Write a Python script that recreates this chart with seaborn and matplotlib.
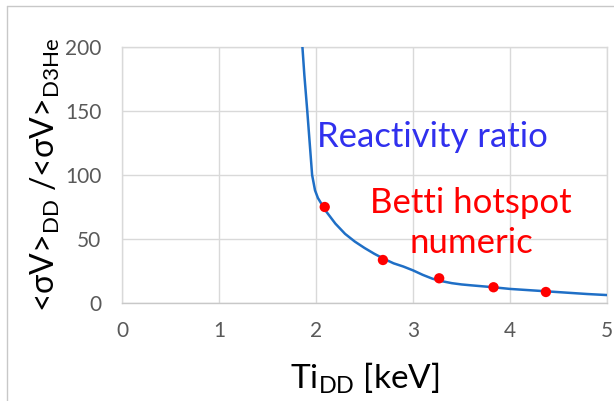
import matplotlib
matplotlib.use("Agg")
import matplotlib.pyplot as plt
import seaborn as sns
import pandas as pd
from matplotlib.lines import Line2D

# ---- data ----
curve_x = [1.86, 1.88, 1.91, 1.935, 1.96, 1.99, 2.02, 2.06, 2.10, 2.15, 2.20, 2.30, 2.40,
           2.50, 2.60, 2.70, 2.80, 2.90, 3.00, 3.10, 3.20, 3.30, 3.40, 3.50, 3.60, 3.80,
           4.00, 4.20, 4.40, 4.60, 4.80, 5.00]
curve_y = [200, 178, 150, 125, 100, 88, 82, 77, 72, 67, 62, 54, 48,
           43, 38.5, 34.5, 31, 28.5, 25.5, 22, 19, 17, 15.5, 14.5, 13.8, 12.5,
           11, 10, 9, 8, 7, 6.2]
pts_x = [2.09, 2.69, 3.27, 3.83, 4.37]
pts_y = [75, 33.6, 19.3, 12.3, 8.6]
xticks = [0, 1, 2, 3, 4, 5]
yticks = [0, 50, 100, 150, 200]

curve = pd.DataFrame({"x": curve_x, "y": curve_y})
pts = pd.DataFrame({"x": pts_x, "y": pts_y})

sns.set_theme(style="white")
plt.rcParams["font.family"] = ["Lato", "DejaVu Sans"]
plt.rcParams["mathtext.fontset"] = "custom"
plt.rcParams["mathtext.rm"] = "Lato"
plt.rcParams["mathtext.it"] = "Lato"

fig = plt.figure(figsize=(6.14, 4.01), dpi=100)
ax = fig.add_axes([122/614, 1-303/401, (607-122)/614, (303-47)/401])

sns.lineplot(data=curve, x="x", y="y", sort=False, ax=ax, color="#1f6fc6", lw=1.8, zorder=3)
sns.scatterplot(data=pts, x="x", y="y", ax=ax, color="#ff0000", s=55, edgecolor="none", zorder=4)

ax.set_xlim(0, 5)
ax.set_ylim(0, 200)
ax.set_xticks(xticks)
ax.set_yticks(yticks)
ax.grid(True, color="#d9d9d9", lw=1)
for s in ax.spines.values():
    s.set_color("#d9d9d9")
    s.set_linewidth(1)
ax.spines["bottom"].set_color("#c8c8c8")
ax.tick_params(axis="both", length=0, labelsize=15, labelcolor="#595959")
ax.tick_params(axis="x", pad=13)
ax.tick_params(axis="y", pad=15)

ax.set_xlabel(r"Ti$_{\mathregular{DD}}$ [keV]", fontsize=24, color="black", labelpad=14)
ax.set_ylabel(r"<σV>$_{\mathregular{DD}}$ /<σV>$_{\mathregular{D3He}}$", fontsize=23,
              color="black", labelpad=2)

ax.text(3.2, 130, "Reactivity ratio", color="#3030ee", fontsize=25, ha="center", va="center")
ax.text(3.6, 78, "Betti hotspot", color="#ff0000", fontsize=25, ha="center", va="center")
ax.text(3.6, 47, "numeric", color="#ff0000", fontsize=25, ha="center", va="center")

fig.add_artist(Line2D([7/614, 1], [1-6/401, 1-6/401], transform=fig.transFigure, color="#c8c8c8", lw=1))
fig.add_artist(Line2D([7/614, 7/614], [0, 1-6/401], transform=fig.transFigure, color="#c8c8c8", lw=1))

fig.savefig("out.png", dpi=100)
